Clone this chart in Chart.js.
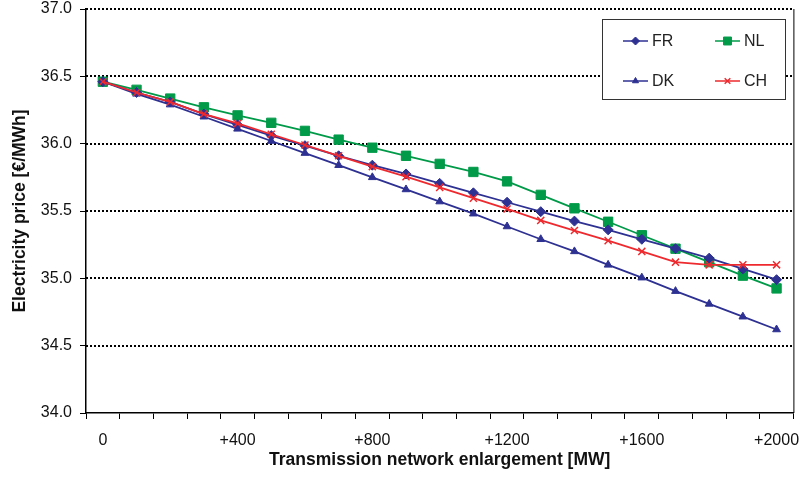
<!DOCTYPE html>
<html>
<head>
<meta charset="utf-8">
<script src="https://cdn.jsdelivr.net/npm/chart.js@4.4.1/dist/chart.umd.min.js"></script>
<style>
  html, body { margin: 0; padding: 0; background: #fff; }
  #wrap { width: 801px; height: 481px; }
</style>
</head>
<body>
<div id="wrap"><canvas id="priceChart" width="801" height="481"></canvas></div>
<script>
// Data
const categories = [0, 100, 200, 300, 400, 500, 600, 700, 800, 900, 1000,
                    1100, 1200, 1300, 1400, 1500, 1600, 1700, 1800, 1900, 2000];
const tickLabels = ["0", "+400", "+800", "+1200", "+1600", "+2000"];
const yTicks = [34.0, 34.5, 35.0, 35.5, 36.0, 36.5, 37.0];

const frPrice = [36.46, 36.38, 36.31, 36.22, 36.14, 36.06, 35.985, 35.91, 35.84, 35.775, 35.705,
                 35.635, 35.565, 35.495, 35.425, 35.36, 35.29, 35.22, 35.15, 35.07, 34.99];
const nlPrice = [36.46, 36.40, 36.335, 36.27, 36.21, 36.155, 36.095, 36.03, 35.97, 35.91, 35.85,
                 35.79, 35.72, 35.62, 35.52, 35.42, 35.32, 35.22, 35.12, 35.02, 34.925];
const dkPrice = [36.46, 36.37, 36.29, 36.20, 36.11, 36.02, 35.93, 35.84, 35.75, 35.66, 35.57,
                 35.48, 35.385, 35.29, 35.20, 35.10, 35.005, 34.905, 34.81, 34.715, 34.62];
const chPrice = [36.46, 36.38, 36.31, 36.22, 36.15, 36.07, 35.99, 35.91, 35.83, 35.755, 35.675,
                 35.595, 35.515, 35.43, 35.355, 35.28, 35.20, 35.12, 35.10, 35.10, 35.10];

const BLUE = "#2e3192";
const GREEN = "#009a49";
const RED = "#ee2a2f";
const FONT = "'Liberation Sans', Arial, sans-serif";

// dotted grid lines + right border drawn behind the series
const frameLines = {
    id: "frameLines",
    beforeDatasetsDraw(chart) {
        const ctx = chart.ctx;
        const area = chart.chartArea;
        const y = chart.scales.y;
        ctx.save();
        ctx.strokeStyle = "#000";
        ctx.lineWidth = 2;
        ctx.setLineDash([2, 2]);
        yTicks.forEach(function (v) {
            if (v === 34.0) return;
            const py = Math.round(y.getPixelForValue(v));
            ctx.beginPath();
            ctx.moveTo(area.left, py);
            ctx.lineTo(area.right, py);
            ctx.stroke();
        });
        ctx.setLineDash([]);
        ctx.lineWidth = 1;
        ctx.beginPath();
        ctx.moveTo(area.right + 0.5, area.top);
        ctx.lineTo(area.right + 0.5, area.bottom);
        ctx.stroke();
        ctx.restore();
    }
};

// legend box inside the plot, top right
const boxLegend = {
    id: "boxLegend",
    afterDatasetsDraw(chart) {
        const ctx = chart.ctx;
        const left = 602, top = 19, right = 785, bottom = 99;
        ctx.save();
        ctx.fillStyle = "#fff";
        ctx.fillRect(left, top, right - left, bottom - top);
        ctx.strokeStyle = "#333";
        ctx.lineWidth = 1;
        ctx.strokeRect(left + 0.5, top + 0.5, right - left, bottom - top);

        const slots = [
            { ds: 0, x: 623, y: 41 },
            { ds: 1, x: 715, y: 41 },
            { ds: 2, x: 623, y: 81 },
            { ds: 3, x: 715, y: 81 }
        ];
        slots.forEach(function (s) {
            const d = chart.data.datasets[s.ds];
            ctx.strokeStyle = d.borderColor;
            ctx.fillStyle = d.borderColor;
            ctx.lineWidth = 1.5;
            ctx.beginPath();
            ctx.moveTo(s.x, s.y);
            ctx.lineTo(s.x + 25, s.y);
            ctx.stroke();
            ctx.lineWidth = d.pointBorderWidth || 1;
            Chart.helpers.drawPoint(ctx, {
                pointStyle: d.pointStyle,
                radius: d.pointRadius - 1,
                borderWidth: d.pointBorderWidth || 1
            }, s.x + 12.5, s.y);
            ctx.fillStyle = "#222";
            ctx.font = "16px " + FONT;
            ctx.textBaseline = "middle";
            ctx.textAlign = "left";
            ctx.fillText(d.label, s.x + 29, s.y + 1);
        });
        ctx.restore();
    }
};

function series(label, data, color, style, radius, order) {
    return {
        label: label,
        data: data,
        borderColor: color,
        backgroundColor: color,
        pointBackgroundColor: color,
        pointBorderColor: color,
        borderWidth: 1.8,
        pointStyle: style,
        pointRadius: radius,
        pointHoverRadius: radius,
        pointBorderWidth: style === "crossRot" ? 1.5 : 1,
        tension: 0,
        order: order
    };
}

const ctx = document.getElementById("priceChart").getContext("2d");
const priceChart = new Chart(ctx, {
    type: "line",
    data: {
        labels: categories,
        datasets: [
            series("FR", frPrice, BLUE, "rectRot", 5, 1),
            series("NL", nlPrice, GREEN, "rect", 6.6, 3),
            series("DK", dkPrice, BLUE, "triangle", 4.5, 2),
            series("CH", chPrice, RED, "crossRot", 5, 0)
        ]
    },
    options: {
        responsive: false,
        animation: false,
        events: [],
        layout: { padding: { top: 9, right: 7, left: 0, bottom: 0 } },
        plugins: {
            legend: { display: false },
            tooltip: { enabled: false }
        },
        scales: {
            x: {
                type: "category",
                offset: true,
                grid: {
                    offset: true,
                    drawOnChartArea: false,
                    drawTicks: true,
                    tickLength: 6,
                    color: "#000"
                },
                border: { display: true, color: "#000", width: 1.5 },
                ticks: {
                    autoSkip: false,
                    maxRotation: 0,
                    padding: 12,
                    color: "#111",
                    font: { family: FONT, size: 16 },
                    callback: function (val, i) {
                        const v = categories[i];
                        const idx = v / 400;
                        return Number.isInteger(idx) ? tickLabels[idx] : "";
                    }
                },
                title: {
                    display: true,
                    text: "Transmission network enlargement [MW]",
                    color: "#111",
                    font: { family: FONT, size: 17.5, weight: "bold" },
                    padding: { top: 0, bottom: 10 }
                },
                afterFit: function (scale) {
                    scale.height = 68;
                    scale.paddingLeft = 0;
                    scale.paddingRight = 0;
                }
            },
            y: {
                min: 34.0,
                max: 37.0,
                grid: {
                    drawOnChartArea: false,
                    drawTicks: true,
                    tickLength: 6,
                    color: "#000"
                },
                border: { display: true, color: "#000", width: 1.5 },
                ticks: {
                    stepSize: 0.5,
                    padding: 8,
                    color: "#111",
                    font: { family: FONT, size: 16 },
                    callback: function (v) { return v.toFixed(1); }
                },
                title: {
                    display: true,
                    text: "Electricity price [€/MWh]",
                    color: "#111",
                    font: { family: FONT, size: 17.5, weight: "bold" },
                    padding: { top: 9.5, bottom: 0 }
                },
                afterFit: function (scale) {
                    scale.width = 86;
                    scale.paddingTop = 0;
                    scale.paddingBottom = 0;
                }
            }
        }
    },
    plugins: [frameLines, boxLegend]
});
</script>
</body>
</html>
